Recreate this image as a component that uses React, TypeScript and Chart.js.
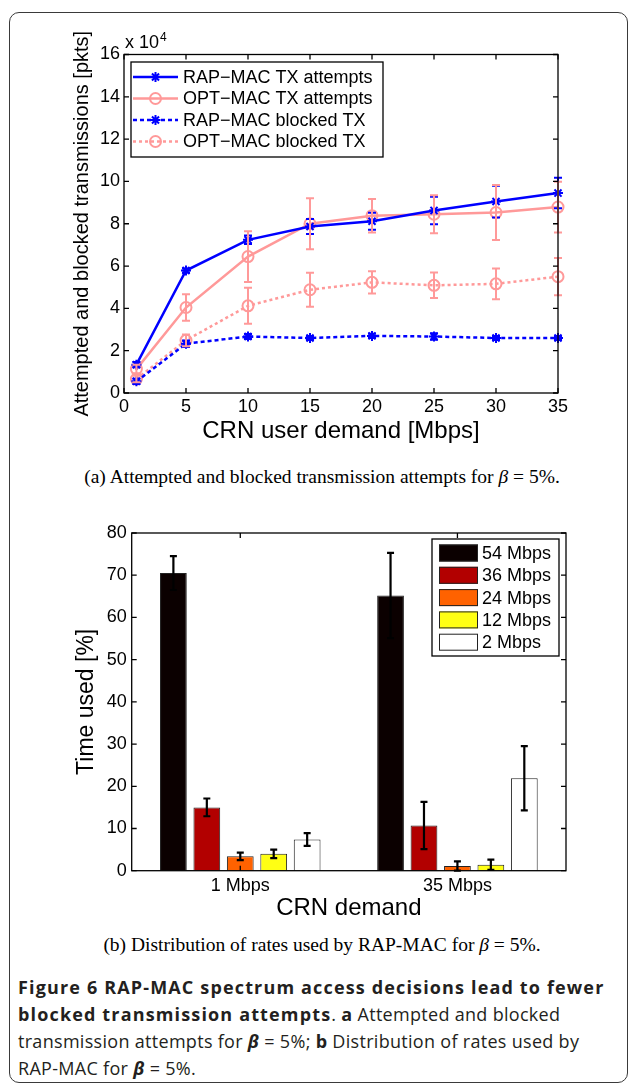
import React, { useEffect, useRef } from "react";
import { Chart, registerables } from "chart.js";
import { drawPoint } from "chart.js/helpers";

Chart.register(...registerables);

// ---------- (a) Attempted and blocked transmissions (x 10^4 pkts) ----------
const demandMbps = [1, 5, 10, 15, 20, 25, 30, 35];
const rapTxAttempts = [1.34, 5.79, 7.24, 7.87, 8.12, 8.63, 9.05, 9.45];
const rapTxAttemptsErr = [0.12, 0.1, 0.2, 0.35, 0.4, 0.65, 0.75, 0.72];
const optTxAttempts = [1.13, 4.04, 6.45, 8.0, 8.38, 8.45, 8.53, 8.79];
const optTxAttemptsErr = [0.2, 0.63, 1.2, 1.2, 0.79, 0.9, 1.3, 1.2];
const rapBlockedTx = [0.55, 2.33, 2.67, 2.6, 2.7, 2.67, 2.6, 2.6];
const rapBlockedTxErr = [0.12, 0.15, 0.12, 0.1, 0.1, 0.15, 0.1, 0.1];
const optBlockedTx = [0.66, 2.49, 4.12, 4.88, 5.23, 5.09, 5.16, 5.5];
const optBlockedTxErr = [0.15, 0.28, 0.85, 0.8, 0.53, 0.6, 0.73, 0.88];
const seriesLabelsA = [
  "RAP\u2212MAC TX attempts",
  "OPT\u2212MAC TX attempts",
  "RAP\u2212MAC blocked TX",
  "OPT\u2212MAC blocked TX",
];

// ---------- (b) Distribution of rates used by RAP-MAC (%) ----------
const demandCategories = ["1 Mbps", "35 Mbps"];
const rateLabels = ["54 Mbps", "36 Mbps", "24 Mbps", "12 Mbps", "2 Mbps"];
const time54 = [70.5, 65.2];
const time54Err = [4.0, 10.1];
const time36 = [15.0, 10.7];
const time36Err = [2.1, 5.6];
const time24 = [3.4, 1.1];
const time24Err = [0.9, 1.1];
const time12 = [4.0, 1.4];
const time12Err = [1.0, 1.2];
const time2 = [7.4, 21.9];
const time2Err = [1.5, 7.6];

const BLUE = "#0000ff";
const PINK = "#ff9999";
const barColors = ["#0b0000", "#b20000", "#ff6200", "#ffff14", "#ffffff"];
const SANS = "'Liberation Sans', Arial, Helvetica, sans-serif";

const errorBarPlugin = {
  id: "errorBars",
  afterDatasetsDraw(chart: any) {
    const ctx = chart.ctx;
    chart.data.datasets.forEach((ds: any, di: number) => {
      if (!ds.errors) return;
      const meta = chart.getDatasetMeta(di);
      const yScale = chart.scales[meta.yAxisID];
      ctx.save();
      ctx.strokeStyle = ds.errorColor || "#000";
      ctx.lineWidth = ds.errorWidth || 2;
      ctx.setLineDash([]);
      meta.data.forEach((el: any, j: number) => {
        const raw = ds.data[j];
        const v = typeof raw === "number" ? raw : raw.y;
        const e = ds.errors[j];
        const x = el.x;
        const y1 = yScale.getPixelForValue(v + e);
        const y2 = yScale.getPixelForValue(v - e);
        const cap = ds.errorCap || 4;
        ctx.beginPath();
        ctx.moveTo(x, y1);
        ctx.lineTo(x, y2);
        ctx.moveTo(x - cap, y1);
        ctx.lineTo(x + cap, y1);
        ctx.moveTo(x - cap, y2);
        ctx.lineTo(x + cap, y2);
        ctx.stroke();
      });
      ctx.restore();
    });
  },
};

function drawFrame(chart: any, xTickPixels: number[], yTickPixels: number[]) {
  const { ctx, chartArea } = chart;
  const { left, right, top, bottom } = chartArea;
  const tl = 5;
  ctx.save();
  ctx.strokeStyle = "#000";
  ctx.lineWidth = 1.3;
  ctx.setLineDash([]);
  ctx.strokeRect(left, top, right - left, bottom - top);
  ctx.beginPath();
  xTickPixels.forEach((x) => {
    ctx.moveTo(x, bottom);
    ctx.lineTo(x, bottom - tl);
    ctx.moveTo(x, top);
    ctx.lineTo(x, top + tl);
  });
  yTickPixels.forEach((y) => {
    ctx.moveTo(left, y);
    ctx.lineTo(left + tl, y);
    ctx.moveTo(right, y);
    ctx.lineTo(right - tl, y);
  });
  ctx.stroke();
  ctx.restore();
}

const frameLegendA = {
  id: "frameLegendA",
  afterDraw(chart: any) {
    const xs = chart.scales.x;
    const ys = chart.scales.y;
    drawFrame(
      chart,
      xs.ticks.map((t: any) => xs.getPixelForValue(t.value)),
      ys.ticks.map((t: any) => ys.getPixelForValue(t.value))
    );
    const { ctx, chartArea } = chart;
    // exponent label
    ctx.save();
    ctx.fillStyle = "#000";
    ctx.textBaseline = "alphabetic";
    ctx.textAlign = "left";
    ctx.font = `18px ${SANS}`;
    const base = "x 10";
    ctx.fillText(base, chartArea.left + 1, chartArea.top - 7);
    const w = ctx.measureText(base).width;
    ctx.font = `12px ${SANS}`;
    ctx.fillText("4", chartArea.left + 1 + w + 1, chartArea.top - 14);
    ctx.restore();

    // legend box
    const x0 = chartArea.left + 7;
    const y0 = chartArea.top + 7.5;
    const bw = 252;
    const bh = 95;
    ctx.save();
    ctx.fillStyle = "#fff";
    ctx.fillRect(x0, y0, bw, bh);
    ctx.strokeStyle = "#000";
    ctx.lineWidth = 1.3;
    ctx.strokeRect(x0, y0, bw, bh);
    chart.data.datasets.forEach((ds: any, i: number) => {
      const cy = y0 + 15 + i * 21.5;
      ctx.save();
      ctx.strokeStyle = ds.borderColor;
      ctx.lineWidth = ds.borderWidth;
      ctx.setLineDash(ds.borderDash || []);
      ctx.beginPath();
      ctx.moveTo(x0 + 2, cy);
      ctx.lineTo(x0 + 47, cy);
      ctx.stroke();
      ctx.restore();
      ctx.save();
      ctx.strokeStyle = ds.pointBorderColor;
      ctx.fillStyle = "rgba(0,0,0,0)";
      ctx.lineWidth = ds.pointBorderWidth;
      ctx.setLineDash([]);
      drawPoint(
        ctx,
        { pointStyle: ds.pointStyle, rotation: 0, radius: ds.pointRadius, borderWidth: ds.pointBorderWidth } as any,
        x0 + 24.5,
        cy
      );
      ctx.restore();
      ctx.fillStyle = "#000";
      ctx.font = `18px ${SANS}`;
      ctx.textBaseline = "middle";
      ctx.textAlign = "left";
      ctx.fillText(ds.label, x0 + 52, cy + 1);
    });
    ctx.restore();
  },
};

const frameLegendB = {
  id: "frameLegendB",
  afterDraw(chart: any) {
    const xs = chart.scales.x;
    const ys = chart.scales.y;
    drawFrame(
      chart,
      xs.ticks.map((_t: any, i: number) => xs.getPixelForTick(i)),
      ys.ticks.map((t: any) => ys.getPixelForValue(t.value))
    );
    const { ctx, chartArea } = chart;
    const bw = 127;
    const bh = 117;
    const x0 = chartArea.right - 7 - bw;
    const y0 = chartArea.top + 6;
    ctx.save();
    ctx.fillStyle = "#fff";
    ctx.fillRect(x0, y0, bw, bh);
    ctx.strokeStyle = "#000";
    ctx.lineWidth = 1.3;
    ctx.strokeRect(x0, y0, bw, bh);
    chart.data.datasets.forEach((ds: any, i: number) => {
      const cy = y0 + 14 + i * 22.3;
      ctx.fillStyle = ds.backgroundColor;
      ctx.fillRect(x0 + 7, cy - 8.5, 39, 17);
      ctx.strokeStyle = "#222";
      ctx.lineWidth = 1;
      ctx.strokeRect(x0 + 7.5, cy - 8, 38, 16);
      ctx.fillStyle = "#000";
      ctx.font = `18px ${SANS}`;
      ctx.textBaseline = "middle";
      ctx.textAlign = "left";
      ctx.fillText(ds.label, x0 + 50, cy + 1);
    });
    ctx.restore();
  },
};

function ChartA() {
  const ref = useRef<HTMLCanvasElement>(null);
  useEffect(() => {
    if (!ref.current) return;
    const pts = (ys: number[]) => demandMbps.map((x, i) => ({ x, y: ys[i] }));
    const values = [rapTxAttempts, optTxAttempts, rapBlockedTx, optBlockedTx];
    const errs = [rapTxAttemptsErr, optTxAttemptsErr, rapBlockedTxErr, optBlockedTxErr];
    const colors = [BLUE, PINK, BLUE, PINK];
    const dashes = [[], [], [4, 3], [3, 3]];
    const markers = ["star", "circle", "star", "circle"];
    const radii = [5, 5.5, 5, 5.5];
    const chart = new Chart(ref.current, {
      type: "line",
      data: {
        datasets: values.map((v, i) => ({
          label: seriesLabelsA[i],
          data: pts(v),
          borderColor: colors[i],
          backgroundColor: colors[i],
          borderWidth: 2.5,
          borderDash: dashes[i],
          pointStyle: markers[i],
          pointRadius: radii[i],
          pointBorderWidth: 2,
          pointBorderColor: colors[i],
          pointBackgroundColor: "rgba(0,0,0,0)",
          clip: false,
          errors: errs[i],
          errorColor: colors[i],
          errorWidth: 2,
          errorCap: 4,
        })) as any,
      },
      options: {
        animation: false,
        responsive: false,
        maintainAspectRatio: false,
        layout: { padding: { top: 54.5, right: 71, left: 0, bottom: 0 } },
        plugins: { legend: { display: false }, tooltip: { enabled: false } },
        scales: {
          x: {
            type: "linear",
            min: 0,
            max: 35,
            ticks: { stepSize: 5, color: "#000", font: { family: SANS, size: 18 }, padding: 3.5, maxRotation: 0 },
            grid: { display: false, drawTicks: false },
            border: { display: false },
            title: {
              display: true,
              text: "CRN user demand [Mbps]",
              color: "#000",
              font: { family: SANS, size: 24 },
              padding: { top: 0, bottom: 14.5 },
            },
            afterFit: (s: any) => {
              s.height = 67;
            },
          },
          y: {
            type: "linear",
            min: 0,
            max: 16,
            ticks: { stepSize: 2, color: "#000", font: { family: SANS, size: 18 }, padding: 4 },
            grid: { display: false, drawTicks: false },
            border: { display: false },
            title: {
              display: true,
              text: "Attempted and blocked transmissions [pkts]",
              color: "#000",
              font: { family: SANS, size: 20 },
              padding: { top: 70, bottom: 0 },
            },
            afterFit: (s: any) => {
              s.width = 124;
            },
          },
        },
      } as any,
      plugins: [errorBarPlugin, frameLegendA],
    });
    return () => chart.destroy();
  }, []);
  return (
    <canvas
      ref={ref}
      width={629}
      height={460}
      style={{ position: "absolute", left: 0, top: 0, width: 629, height: 460 }}
    />
  );
}

function ChartB() {
  const ref = useRef<HTMLCanvasElement>(null);
  useEffect(() => {
    if (!ref.current) return;
    const values = [time54, time36, time24, time12, time2];
    const errs = [time54Err, time36Err, time24Err, time12Err, time2Err];
    const chart = new Chart(ref.current, {
      type: "bar",
      data: {
        labels: demandCategories,
        datasets: values.map((v, i) => ({
          label: rateLabels[i],
          data: v,
          backgroundColor: barColors[i],
          borderColor: "#222",
          borderWidth: 1,
          categoryPercentage: 0.77,
          barPercentage: 0.8,
          errors: errs[i],
          errorColor: "#000",
          errorWidth: 2.2,
          errorCap: 3.5,
        })) as any,
      },
      options: {
        animation: false,
        responsive: false,
        maintainAspectRatio: false,
        layout: { padding: { top: 43, right: 63, left: 0, bottom: 0 } },
        plugins: { legend: { display: false }, tooltip: { enabled: false } },
        scales: {
          x: {
            ticks: { color: "#000", font: { family: SANS, size: 18 }, padding: 4.5, maxRotation: 0 },
            grid: { display: false, drawTicks: false },
            border: { display: false },
            title: {
              display: true,
              text: "CRN demand",
              color: "#000",
              font: { family: SANS, size: 24 },
              padding: { top: 0, bottom: 7.5 },
            },
            afterFit: (s: any) => {
              s.height = 59.3;
            },
          },
          y: {
            min: 0,
            max: 80,
            ticks: { stepSize: 10, color: "#000", font: { family: SANS, size: 18 }, padding: 5 },
            grid: { display: false, drawTicks: false },
            border: { display: false },
            title: {
              display: true,
              text: "Time used [%]",
              color: "#000",
              font: { family: SANS, size: 23 },
              padding: { top: 73, bottom: 0 },
            },
            afterFit: (s: any) => {
              s.width = 131.7;
            },
          },
        },
      } as any,
      plugins: [errorBarPlugin, frameLegendB],
    });
    return () => chart.destroy();
  }, []);
  return (
    <canvas
      ref={ref}
      width={629}
      height={440}
      style={{ position: "absolute", left: 0, top: 490, width: 629, height: 440 }}
    />
  );
}

export default function App() {
  const serif = "'Liberation Serif', 'Times New Roman', serif";
  const capSans = "'Open Sans', 'Noto Sans', sans-serif";
  const bold = { fontWeight: 700, letterSpacing: "1.15px" } as const;
  return (
    <div
      style={{
        position: "absolute",
        left: 0,
        top: 0,
        width: 629,
        height: 1084,
        background: "#fff",
        overflow: "hidden",
      }}
    >
      <div
        style={{
          position: "absolute",
          left: 9,
          top: 12,
          width: 619,
          height: 1071,
          boxSizing: "border-box",
          border: "1.5px solid #3a3a3a",
          borderRadius: 10,
        }}
      />
      <ChartA />
      <ChartB />
      <div
        style={{
          position: "absolute",
          left: 0,
          top: 465,
          width: 644,
          textAlign: "center",
          fontFamily: serif,
          fontSize: 19.5,
          lineHeight: "24px",
          color: "#000",
          whiteSpace: "nowrap",
        }}
      >
        (a) Attempted and blocked transmission attempts for <i>β</i> = 5%.
      </div>
      <div
        style={{
          position: "absolute",
          left: 0,
          top: 933,
          width: 644,
          textAlign: "center",
          fontFamily: serif,
          fontSize: 19.5,
          lineHeight: "24px",
          color: "#000",
          whiteSpace: "nowrap",
        }}
      >
        (b) Distribution of rates used by RAP-MAC for <i>β</i> = 5%.
      </div>
      <div
        style={{
          position: "absolute",
          left: 18,
          top: 974,
          width: 612,
          fontFamily: capSans,
          fontSize: 18,
          letterSpacing: "0.3px",
          lineHeight: "27px",
          color: "#231f20",
          whiteSpace: "nowrap",
        }}
      >
        <span style={bold}>Figure 6 RAP-MAC spectrum access decisions lead to fewer</span>
        <br />
        <span style={bold}>blocked transmission attempts</span>. <b>a</b> Attempted and blocked
        <br />
        transmission attempts for <b><i>β</i></b> = 5%; <b>b</b> Distribution of rates used by
        <br />
        RAP-MAC for <b><i>β</i></b> = 5%.
      </div>
    </div>
  );
}
